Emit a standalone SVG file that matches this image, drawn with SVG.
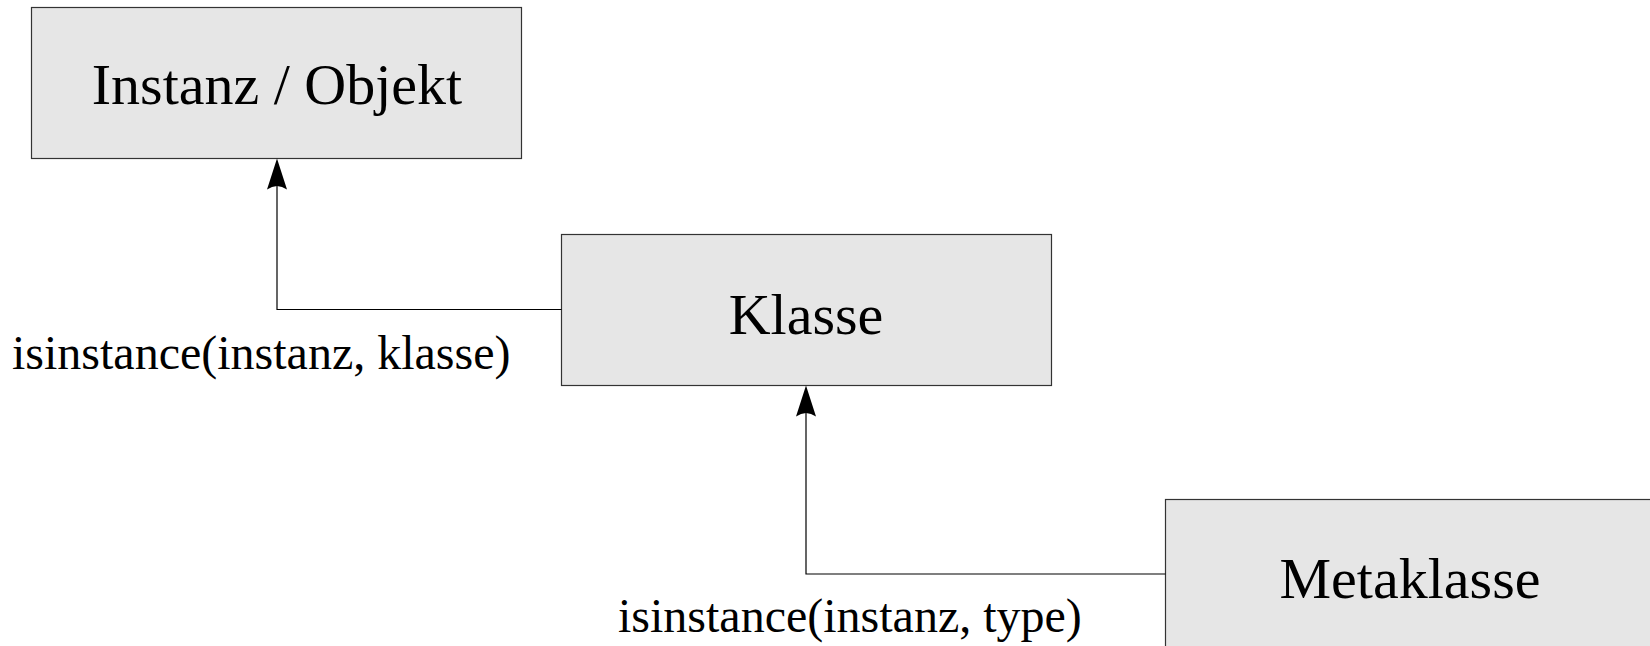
<svg xmlns="http://www.w3.org/2000/svg" width="1650" height="646" viewBox="0 0 1650 646">
<style>
.box{fill:#e6e6e6;stroke:#333;stroke-width:1.2}
.t{font-family:"Liberation Serif",serif;fill:#000}
.big{font-size:58px;text-anchor:middle}
.lbl{font-size:48px}
.ln{fill:none;stroke:#000;stroke-width:1.2}
</style>
<defs>
<path id="ah" d="M0,0 L-10,31 Q0,24 10,31 Z" fill="#000"/>
</defs>
<g id="instanz">
<rect class="box" x="31.5" y="7.5" width="490" height="151"/>
<text class="t big" x="277" y="104">Instanz / Objekt</text>
</g>
<g id="klasse">
<rect class="box" x="561.5" y="234.5" width="490" height="151"/>
<text class="t big" x="806" y="334">Klasse</text>
</g>
<g id="metaklasse">
<rect class="box" x="1165.5" y="499.5" width="490" height="151"/>
<text class="t big" x="1410" y="598">Metaklasse</text>
</g>
<g id="connectors">
<path class="ln" d="M561.5,309.5 H277 V185"/>
<use href="#ah" x="277" y="158.5"/>
<path class="ln" d="M1165.5,574 H806 V412"/>
<use href="#ah" x="806" y="385.5"/>
<text class="t lbl" x="12" y="369">isinstance(instanz, klasse)</text>
<text class="t lbl" x="618" y="632">isinstance(instanz, type)</text>
</g>
</svg>
